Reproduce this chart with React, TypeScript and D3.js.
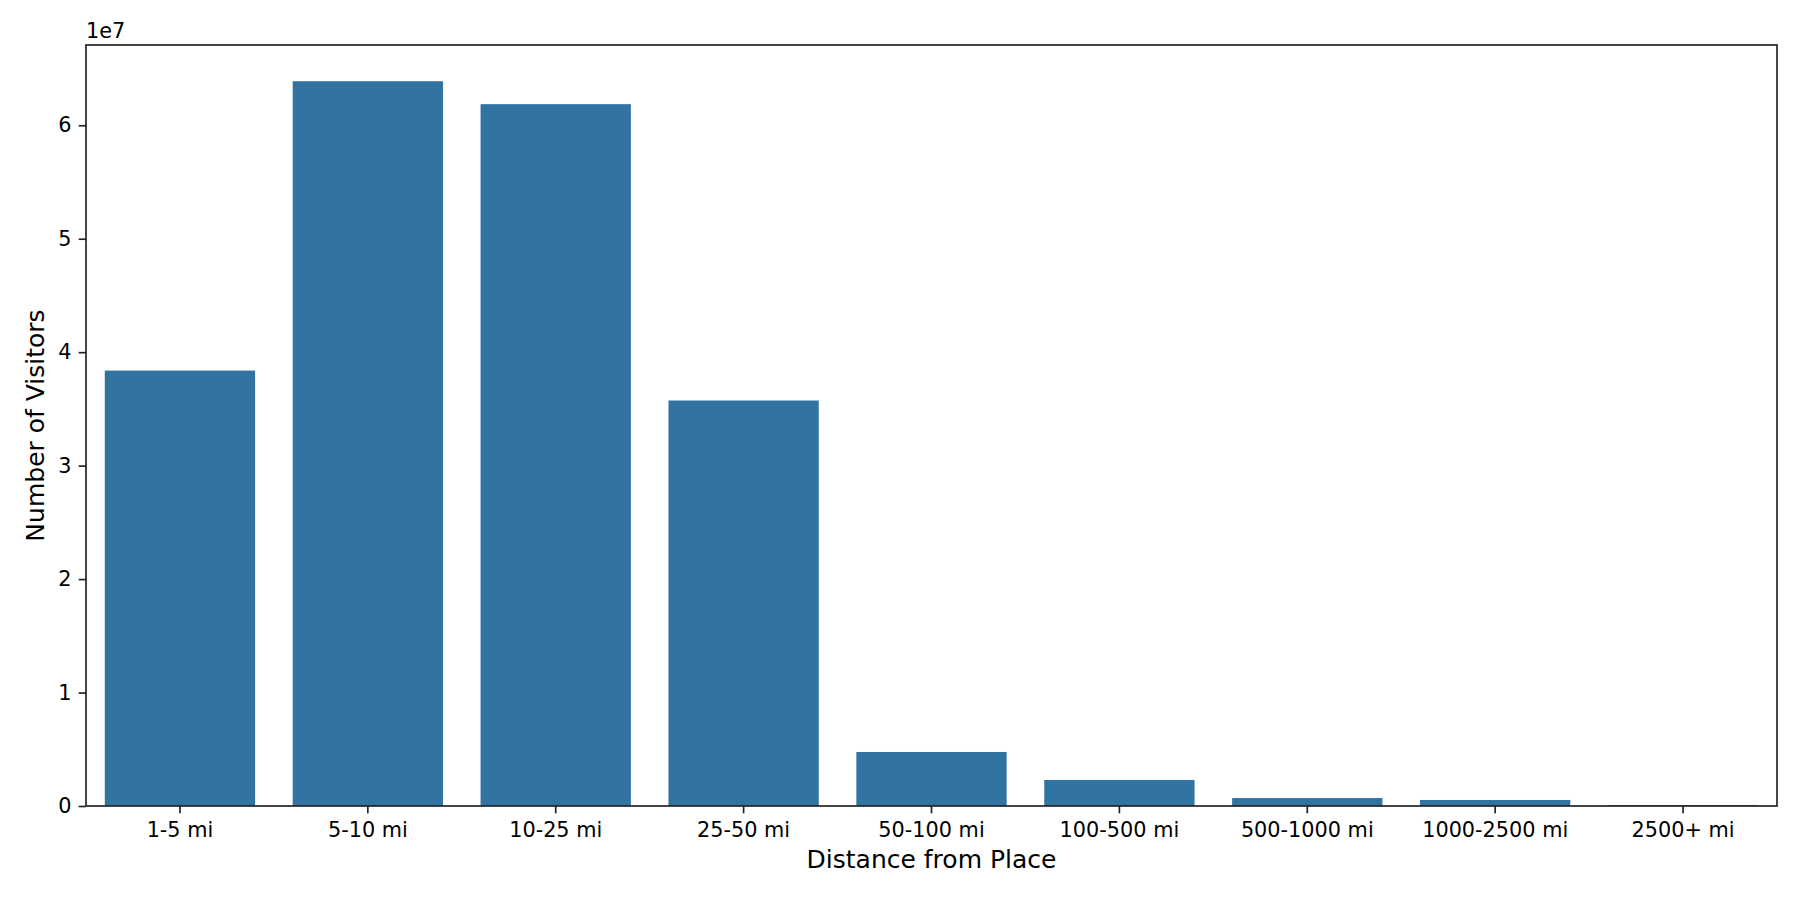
import { useEffect, useRef } from 'react';
import * as d3 from 'd3';

const categories = [
  '1-5 mi', '5-10 mi', '10-25 mi', '25-50 mi', '50-100 mi',
  '100-500 mi', '500-1000 mi', '1000-2500 mi', '2500+ mi',
];
const visitors = [
  3.838e7, 6.388e7, 6.186e7, 3.574e7, 0.476e7,
  0.229e7, 0.07e7, 0.053e7, 0.008e7,
];
const yTicks = [0, 1e7, 2e7, 3e7, 4e7, 5e7, 6e7];

const WIDTH = 1800;
const HEIGHT = 900;
const FONT = 'DejaVu Sans, sans-serif';
const BAR_COLOR = '#3274a1';

export default function App() {
  const svgRef = useRef<SVGSVGElement>(null);

  useEffect(() => {
    if (!svgRef.current) return;
    const svg = d3.select(svgRef.current);
    svg.selectAll('*').remove();

    const m = { left: 86, right: 23, top: 45, bottom: 94 };
    const x0 = m.left;
    const x1 = WIDTH - m.right;
    const y0 = HEIGHT - m.bottom;
    const y1 = m.top;

    const x = d3.scaleBand<string>()
      .domain(categories)
      .range([x0, x1])
      .paddingInner(0.2)
      .paddingOuter(0.1);

    const yMax = (d3.max(visitors) || 0) * 1.05;
    const y = d3.scaleLinear().domain([0, yMax]).range([y0, y1]);

    svg.append('rect')
      .attr('width', WIDTH)
      .attr('height', HEIGHT)
      .attr('fill', '#fff');

    // bars
    svg.selectAll('.bar')
      .data(categories)
      .enter()
      .append('rect')
      .attr('class', 'bar')
      .attr('x', d => x(d) as number)
      .attr('width', x.bandwidth())
      .attr('y', (d, i) => y(visitors[i]))
      .attr('height', (d, i) => y(0) - y(visitors[i]))
      .attr('fill', BAR_COLOR);

    const tickLen = 7.3;

    // y axis
    const yAxis = svg.append('g')
      .attr('transform', `translate(${x0},0)`)
      .call(
        d3.axisLeft(y)
          .tickValues(yTicks)
          .tickSize(tickLen)
          .tickPadding(7.3)
          .tickFormat(d => String((d as number) / 1e7))
      );
    yAxis.select('.domain').remove();
    yAxis.selectAll('line').attr('stroke', '#222').attr('stroke-width', 1.67);
    yAxis.selectAll('text')
      .attr('font-family', FONT)
      .attr('font-size', '20.8px')
      .attr('fill', '#000');

    // x axis
    const xAxis = svg.append('g')
      .attr('transform', `translate(0,${y0})`)
      .call(d3.axisBottom(x).tickSize(tickLen).tickPadding(8.5));
    xAxis.select('.domain').remove();
    xAxis.selectAll('line').attr('stroke', '#222').attr('stroke-width', 1.67);
    xAxis.selectAll('text')
      .attr('font-family', FONT)
      .attr('font-size', '20.8px')
      .attr('fill', '#000');

    // frame
    svg.append('rect')
      .attr('x', x0)
      .attr('y', y1)
      .attr('width', x1 - x0)
      .attr('height', y0 - y1)
      .attr('fill', 'none')
      .attr('stroke', '#222')
      .attr('stroke-width', 1.67);

    // offset text
    svg.append('text')
      .attr('x', x0)
      .attr('y', 38)
      .attr('font-family', FONT)
      .attr('font-size', '20.8px')
      .attr('fill', '#000')
      .text('1e7');

    // axis labels
    svg.append('text')
      .attr('x', (x0 + x1) / 2)
      .attr('y', 868)
      .attr('text-anchor', 'middle')
      .attr('font-family', FONT)
      .attr('font-size', '25px')
      .attr('fill', '#000')
      .text('Distance from Place');

    svg.append('text')
      .attr('transform', `translate(43.5,${(y0 + y1) / 2}) rotate(-90)`)
      .attr('text-anchor', 'middle')
      .attr('font-family', FONT)
      .attr('font-size', '25px')
      .attr('fill', '#000')
      .text('Number of Visitors');
  }, []);

  return (
    <svg
      ref={svgRef}
      width={WIDTH}
      height={HEIGHT}
      style={{ position: 'absolute', left: 0, top: 0, display: 'block' }}
    />
  );
}
